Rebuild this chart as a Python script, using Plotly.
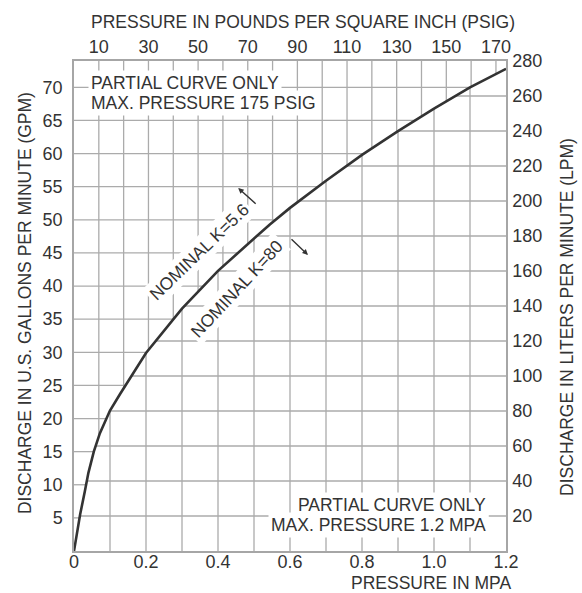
import numpy as np
import plotly.graph_objects as go

# ---------------- data ----------------
PSI_PER_MPA = 145.04
LPM_PER_GPM = 3.785

pressure_mpa = [0, 0.008, 0.017, 0.03, 0.04, 0.055, 0.072, 0.1, 0.128, 0.2, 0.225,
                0.3, 0.4, 0.5, 0.544, 0.6, 0.7, 0.8, 0.9, 1.0, 1.1, 1.2]
flow_gpm = [0, 2.8, 5.5, 9.0, 11.8, 15.0, 17.8, 21.2, 23.7, 29.9, 31.6,
            36.6, 42.3, 47.2, 49.3, 51.8, 55.9, 59.8, 63.4, 66.8, 70.0, 72.8]

mpa_tickvals = [0, 0.2, 0.4, 0.6, 0.8, 1.0, 1.2]
mpa_ticktext = ["0", "0.2", "0.4", "0.6", "0.8", "1.0", "1.2"]
psi_tickvals = [10, 30, 50, 70, 90, 110, 130, 150, 170]
gpm_tickvals = [5, 10, 15, 20, 25, 30, 35, 40, 45, 50, 55, 60, 65, 70]
lpm_tickvals = [20, 40, 60, 80, 100, 120, 140, 160, 180, 200, 220, 240, 260, 280]

mpa_grid = [0.1, 0.2, 0.3, 0.4, 0.5, 0.6, 0.7, 0.8, 0.9, 1.0, 1.1]
psi_grid = [10, 20, 30, 40, 50, 60, 70, 80, 90, 100, 110, 120, 130, 140, 150, 160, 170]
gpm_grid = [5, 10, 15, 20, 25, 30, 35, 40, 45, 50, 55, 60, 65, 70]
lpm_grid = [20, 40, 60, 80, 100, 120, 140, 160, 180, 200, 220, 240, 260]

X_MAX_MPA = 1.2
Y_MAX_LPM = 280
Y_MAX_GPM = Y_MAX_LPM / LPM_PER_GPM

TEXT = "#333333"
GRID = "#ababab"
FONT = "Liberation Sans, Arial, Helvetica, sans-serif"

pm = np.array(pressure_mpa)
fg = np.array(flow_gpm)

def curve_gpm(p):
    return float(np.interp(p, pm, fg))

def curve_mpa(q):
    return float(np.interp(q, fg, pm))

fig = go.Figure()

# empty trace so the secondary (psi / lpm) axes are drawn
fig.add_trace(go.Scatter(x=[], y=[], xaxis="x2", yaxis="y2", showlegend=False, hoverinfo="skip"))

# grid lines, all drawn in MPa / GPM coordinates on the main axes
gx, gy = [], []
# US grid (above / left of the curve)
for p in psi_grid:
    pmpa = p / PSI_PER_MPA
    gx += [pmpa, pmpa, None]
    gy += [curve_gpm(pmpa), Y_MAX_GPM, None]
for q in gpm_grid:
    gx += [0, curve_mpa(q), None]
    gy += [q, q, None]
# metric grid (below / right of the curve)
for p in mpa_grid:
    gx += [p, p, None]
    gy += [0, curve_gpm(p), None]
for l in lpm_grid:
    q = l / LPM_PER_GPM
    gx += [curve_mpa(q), X_MAX_MPA, None]
    gy += [q, q, None]
fig.add_trace(go.Scatter(x=gx, y=gy, mode="lines", xaxis="x", yaxis="y",
                         line=dict(color=GRID, width=1.3), hoverinfo="skip", showlegend=False))

# the flow curve (drawn last, on top of the grid)
fig.add_trace(go.Scatter(x=pressure_mpa, y=flow_gpm, mode="lines", xaxis="x", yaxis="y",
                         line=dict(color="#333333", width=2.6), showlegend=False))

tickfont = dict(family=FONT, size=18, color=TEXT)
axline = dict(showline=True, linecolor="#a6a6a6", linewidth=1.5, showgrid=False,
              zeroline=False, ticks="", tickfont=tickfont)

fig.update_layout(
    width=582, height=593,
    margin=dict(l=74, r=76, t=61, b=42),
    paper_bgcolor="white", plot_bgcolor="white",
    font=dict(family=FONT, color=TEXT, size=17.5),
    xaxis=dict(range=[0, X_MAX_MPA], tickvals=mpa_tickvals, ticktext=mpa_ticktext,
               ticklabelstandoff=-6, **axline),
    xaxis2=dict(range=[0, X_MAX_MPA * PSI_PER_MPA], tickvals=psi_tickvals, overlaying="x",
                side="top", ticklabelstandoff=-1, **axline),
    yaxis=dict(range=[0, Y_MAX_GPM], tickvals=gpm_tickvals, ticklabelstandoff=6, **axline),
    yaxis2=dict(range=[0, Y_MAX_LPM], tickvals=lpm_tickvals, overlaying="y", side="right",
                ticklabelstandoff=1, **axline),
)

ann_font = dict(family=FONT, size=17.5, color=TEXT)

def box_text(text, x, y, xanchor, **kw):
    fig.add_annotation(text=text, x=x, y=y, xref="x", yref="y", xanchor=xanchor,
                       yanchor="middle", showarrow=False, bgcolor="white", borderpad=2,
                       font=ann_font, **kw)

# top-left note
box_text("PARTIAL CURVE ONLY", 0.040, 70.6, "left")
box_text("MAX. PRESSURE 175 PSIG", 0.040, 67.7, "left")
# bottom-right note
box_text("PARTIAL CURVE ONLY", 1.153, 6.9, "right")
box_text("MAX. PRESSURE 1.2 MPA", 1.153, 3.9, "right")
# nominal labels along the curve
box_text("NOMINAL K=5.6", 0.347, 45.2, "center", textangle=-44)
box_text("NOMINAL K=80", 0.452, 39.6, "center", textangle=-47)

# direction arrows
fig.add_annotation(x=0.456, y=54.8, xref="x", yref="y", ax=19, ay=17, text="",
                   showarrow=True, arrowhead=2, arrowsize=0.8, arrowwidth=1.4, arrowcolor="#333333")
fig.add_annotation(x=0.65, y=44.7, xref="x", yref="y", ax=-18, ay=-17, text="",
                   showarrow=True, arrowhead=2, arrowsize=0.8, arrowwidth=1.4, arrowcolor="#333333")

# axis titles
def title(text, x, y, xanchor="center", angle=0):
    fig.add_annotation(text=text, x=x, y=y, xref="paper", yref="paper", xanchor=xanchor,
                       yanchor="middle", showarrow=False, textangle=angle, font=ann_font)

title("PRESSURE IN POUNDS PER SQUARE INCH (PSIG)", 0.530, 1.0800)
title("PRESSURE IN MPA", 1.016, -0.0663, xanchor="right")
title("DISCHARGE IN U.S. GALLONS PER MINUTE (GPM)", -0.1134, 0.506, angle=-90)
title("DISCHARGE IN LITERS PER MINUTE (LPM)", 1.141, 0.4776, angle=-90)

fig.write_html("out.html", config={"displayModeBar": False},
               post_script="document.body.style.margin='0';document.body.style.padding='0';")
